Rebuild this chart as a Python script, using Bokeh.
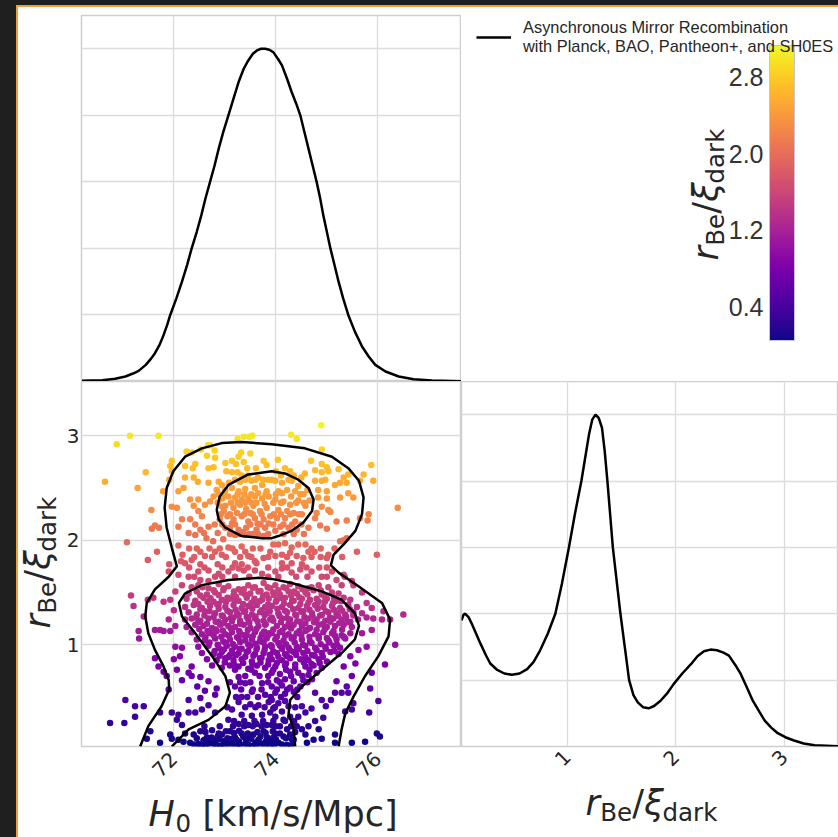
import math
import numpy as np
from bokeh.plotting import figure
from bokeh.layouts import row, column
from bokeh.models import (Div, FixedTicker, LinearColorMapper, ColumnDataSource, Label,
                          Legend, LegendItem, Range1d, ColorBar)
from bokeh.palettes import Plasma256
from bokeh.embed import file_html
from bokeh.resources import INLINE

# ---------------- data ----------------
H0_RANGE = (70.19, 77.64)
R_RANGE = (0.025, 3.52)
R_RANGE_1D = (0.025, 3.50)
CB_RANGE = (0.05, 3.13)

h0_ticks = [72, 74, 76]
r_ticks = [1, 2, 3]
cb_ticks = [0.4, 1.2, 2.0, 2.8]
cb_tick_labels = ["0.4", "1.2", "2.0", "2.8"]
density_grid = [0.2, 0.4, 0.6, 0.8, 1.0]

# 1D marginal of H0 (normalised to peak = 1)
h0_curve_x = [70.20, 70.60, 70.85, 71.05, 71.20, 71.31, 71.45, 71.55, 71.63, 71.72, 71.80, 71.87,
              71.93, 72.05, 72.16, 72.26, 72.35, 72.45, 72.54, 72.62, 72.71, 72.80, 72.88, 72.97,
              73.07, 73.17, 73.27, 73.37, 73.46, 73.55, 73.63, 73.71, 73.79, 73.87, 73.95, 74.04,
              74.12, 74.22, 74.31, 74.40, 74.48, 74.56, 74.64, 74.72, 74.80, 74.87, 74.93, 75.00,
              75.07, 75.15, 75.23, 75.32, 75.42, 75.55, 75.69, 75.82, 75.95, 76.15, 76.41, 76.70,
              77.06, 77.64]
h0_curve_y = [0.002, 0.004, 0.008, 0.015, 0.024, 0.032, 0.05, 0.068, 0.085, 0.11, 0.14, 0.17,
              0.20, 0.25, 0.30, 0.35, 0.40, 0.45, 0.50, 0.55, 0.60, 0.65, 0.70, 0.75,
              0.80, 0.85, 0.90, 0.94, 0.965, 0.985, 0.995, 1.00, 1.00, 0.997, 0.99, 0.97,
              0.95, 0.91, 0.87, 0.835, 0.80, 0.75, 0.70, 0.65, 0.60, 0.55, 0.50, 0.45,
              0.40, 0.35, 0.30, 0.25, 0.20, 0.15, 0.105, 0.075, 0.05, 0.03, 0.015, 0.007,
              0.003, 0.001]

# 1D marginal of r_Be/xi_dark
r_curve_x = [0.025, 0.045, 0.06, 0.09, 0.12, 0.16, 0.20, 0.25, 0.29, 0.35, 0.42, 0.49, 0.56, 0.63,
             0.69, 0.75, 0.82, 0.89, 0.95, 1.015, 1.07, 1.13, 1.17, 1.20, 1.23, 1.26, 1.29, 1.32,
             1.345, 1.37, 1.395, 1.42, 1.455, 1.49, 1.53, 1.57, 1.61, 1.65, 1.70, 1.75, 1.80, 1.86,
             1.92, 1.98, 2.06, 2.14, 2.20, 2.26, 2.32, 2.38, 2.44, 2.49, 2.55, 2.60, 2.66, 2.71,
             2.77, 2.82, 2.88, 2.94, 3.01, 3.09, 3.18, 3.28, 3.50]
r_curve_y = [0.38, 0.398, 0.40, 0.39, 0.37, 0.34, 0.31, 0.275, 0.25, 0.232, 0.22, 0.216, 0.22, 0.233,
             0.255, 0.29, 0.34, 0.40, 0.49, 0.60, 0.70, 0.80, 0.88, 0.94, 0.985, 1.00, 0.99, 0.96,
             0.89, 0.80, 0.70, 0.60, 0.50, 0.40, 0.30, 0.20, 0.155, 0.133, 0.118, 0.115, 0.122, 0.138,
             0.16, 0.188, 0.22, 0.248, 0.272, 0.287, 0.292, 0.29, 0.283, 0.274, 0.245, 0.218, 0.175, 0.138,
             0.105, 0.078, 0.057, 0.040, 0.028, 0.018, 0.009, 0.004, 0.001]

# contours (outer 95 %, lower 68 %, upper 68 %)
outer_h0 = [71.34, 71.50, 71.76, 71.91, 71.90, 71.80, 71.63, 71.50, 71.44, 71.47, 71.63, 71.90, 72.06,
            71.96, 71.86, 71.82, 71.86, 71.99, 72.22, 72.55, 72.94, 73.33, 73.92, 74.57, 75.10, 75.42,
            75.63, 75.72, 75.69, 75.56, 75.33, 75.13, 75.08, 75.23, 75.62, 76.08, 76.24, 76.21, 76.01,
            75.75, 75.52, 75.36, 75.29, 75.23]
outer_r = [0.025, 0.22, 0.41, 0.57, 0.66, 0.79, 0.95, 1.11, 1.27, 1.40, 1.53, 1.65, 1.75,
           1.93, 2.12, 2.31, 2.50, 2.66, 2.80, 2.88, 2.93, 2.94, 2.92, 2.88, 2.80, 2.69,
           2.57, 2.41, 2.25, 2.09, 1.96, 1.86, 1.76, 1.69, 1.56, 1.40, 1.24, 1.08, 0.89,
           0.70, 0.50, 0.34, 0.19, 0.025]

inner_low_h0 = [71.96, 72.29, 72.68, 73.01, 73.10, 73.01, 72.75, 72.42, 72.16, 72.10, 72.22, 72.55,
                73.07, 73.66, 73.92, 74.31, 74.90, 75.29, 75.55, 75.63, 75.55, 75.29, 74.90, 74.51,
                74.28, 74.25, 74.35, 74.38]
inner_low_r = [0.025, 0.19, 0.28, 0.41, 0.54, 0.70, 0.89, 1.11, 1.27, 1.40, 1.49, 1.57,
               1.62, 1.64, 1.63, 1.59, 1.51, 1.43, 1.30, 1.18, 1.05, 0.92, 0.76, 0.60,
               0.47, 0.34, 0.19, 0.025]

inner_up_h0 = [72.84, 72.90, 73.07, 73.46, 73.92, 74.18, 74.44, 74.64, 74.74, 74.71, 74.54, 74.31,
               74.05, 73.92, 73.73, 73.33, 73.01, 72.88, 72.84]
inner_up_r = [2.29, 2.42, 2.53, 2.63, 2.66, 2.64, 2.58, 2.50, 2.39, 2.28, 2.17, 2.09,
              2.04, 2.02, 2.02, 2.04, 2.12, 2.20, 2.29]

# scatter samples (H0, r_Be/xi_dark) read region by region
pts_upper_left = [
    (70.88, 2.92), (71.14, 3.00), (71.70, 3.00), (73.25, 2.97), (73.37, 2.99), (73.48, 2.99), (73.54, 3.00),
    (72.25, 2.85), (72.35, 2.84), (72.53, 2.87), (72.67, 2.91), (72.71, 2.91), (72.80, 2.86), (72.65, 2.81),
    (72.81, 2.79), (73.27, 2.80), (73.32, 2.84), (73.50, 2.83), (71.96, 2.76), (71.93, 2.71), (71.96, 2.66),
    (71.91, 2.58), (71.45, 2.65), (71.29, 2.50), (70.65, 2.56), (71.79, 2.47), (72.22, 2.71), (72.37, 2.69),
    (72.42, 2.73), (72.68, 2.69), (72.78, 2.70), (73.01, 2.74), (73.14, 2.76), (73.22, 2.73), (73.37, 2.75),
    (73.44, 2.69), (73.61, 2.69), (73.76, 2.76), (73.82, 2.72), (73.03, 2.66), (73.14, 2.65), (73.25, 2.65),
    (73.33, 2.62), (72.22, 2.60), (72.39, 2.60), (72.47, 2.56), (72.68, 2.55), (72.88, 2.56), (72.94, 2.53),
    (72.19, 2.50), (72.09, 2.47), (72.32, 2.39), (72.48, 2.39), (72.61, 2.34), (72.71, 2.37), (72.78, 2.42),
    (72.84, 2.48), (72.39, 2.33), (72.48, 2.28), (72.55, 2.23), (71.96, 2.32), (72.06, 2.31), (72.16, 2.20),
    (72.09, 2.13), (72.32, 2.20), (72.42, 2.15), (72.52, 2.10), (72.59, 2.07), (72.68, 2.13), (72.80, 2.15),
    (72.86, 2.07), (73.01, 2.12), (72.29, 2.07), (72.42, 2.05), (72.64, 2.02), (71.63, 2.14), (71.71, 2.12),
    (71.57, 2.11), (71.56, 2.29),
]
pts_upper_core = [
    (73.01, 2.48), (73.14, 2.50), (73.27, 2.47), (73.40, 2.49), (73.59, 2.50), (73.73, 2.53), (73.82, 2.47),
    (73.07, 2.42), (73.20, 2.41), (73.33, 2.39), (73.46, 2.40), (73.59, 2.42), (73.73, 2.40), (73.86, 2.42),
    (73.01, 2.33), (73.17, 2.31), (73.30, 2.34), (73.42, 2.30), (73.56, 2.33), (73.69, 2.28), (73.82, 2.31),
    (73.05, 2.23), (73.17, 2.20), (73.33, 2.23), (73.46, 2.18), (73.59, 2.21), (73.76, 2.20), (73.89, 2.23),
    (73.10, 2.12), (73.27, 2.10), (73.42, 2.12), (73.62, 2.10), (73.79, 2.12), (73.20, 2.05), (73.40, 2.05),
    (73.76, 2.04), (73.08, 2.55), (73.30, 2.56), (73.52, 2.57), (73.65, 2.60), (73.85, 2.58), (73.45, 2.62),
    (72.95, 2.40), (73.12, 2.36), (73.38, 2.44), (73.52, 2.36), (73.65, 2.45), (73.78, 2.35), (72.98, 2.28),
    (73.24, 2.26), (73.50, 2.26), (73.64, 2.16), (73.86, 2.16), (73.14, 2.16), (73.36, 2.08), (73.55, 2.06),
    (72.90, 2.20), (72.95, 2.32), (73.99, 2.57), (74.12, 2.55), (74.31, 2.57), (74.44, 2.52), (74.05, 2.47),
    (74.22, 2.48), (74.38, 2.47), (74.54, 2.44), (73.99, 2.39), (74.15, 2.37), (74.28, 2.34), (74.44, 2.38),
    (74.58, 2.33), (74.05, 2.29), (74.22, 2.28), (74.35, 2.26), (74.51, 2.25), (74.02, 2.21), (74.18, 2.21),
    (74.38, 2.18), (74.09, 2.13), (74.25, 2.12), (74.41, 2.10), (73.99, 2.09), (74.10, 2.62), (74.35, 2.62),
    (74.00, 2.66), (74.50, 2.60), (74.62, 2.48), (74.66, 2.38), (74.30, 2.42), (74.12, 2.45),
]
pts_upper_right = [
    (74.89, 3.10), (74.30, 3.01), (74.41, 2.97), (74.90, 2.87), (74.04, 2.77), (74.69, 2.76), (74.90, 2.73),
    (75.00, 2.70), (75.87, 2.72), (75.72, 2.63), (75.91, 2.57), (75.65, 2.57), (74.18, 2.69), (74.28, 2.66),
    (74.57, 2.64), (74.77, 2.67), (74.90, 2.65), (75.03, 2.66), (75.23, 2.68), (75.33, 2.60), (75.42, 2.63),
    (75.16, 2.53), (75.26, 2.55), (75.39, 2.55), (74.77, 2.57), (74.90, 2.57), (74.97, 2.58), (74.83, 2.48),
    (75.00, 2.47), (75.42, 2.45), (75.52, 2.41), (75.26, 2.41), (75.00, 2.40), (74.83, 2.41), (74.90, 2.32),
    (74.80, 2.26), (75.03, 2.29), (75.07, 2.27), (75.39, 2.19), (75.65, 2.21), (75.82, 2.25), (75.80, 2.19),
    (76.39, 2.31), (74.77, 2.21), (74.87, 2.14), (74.64, 2.12), (75.19, 2.18), (75.00, 2.11),
]
pts_saddle = [
    (72.09, 1.95), (72.17, 1.86), (72.14, 1.80), (72.22, 1.78), (71.91, 1.77), (71.67, 1.89), (71.49, 1.81),
    (71.08, 1.98), (72.52, 1.89), (72.61, 1.85), (72.81, 1.89), (72.94, 1.86), (73.07, 1.93), (73.20, 1.89),
    (73.33, 1.94), (73.40, 1.89), (73.46, 1.85), (73.59, 1.80), (73.76, 1.83), (73.89, 1.89), (72.35, 1.81),
    (72.52, 1.77), (72.86, 1.77), (73.20, 1.78), (73.33, 1.77), (73.62, 1.78), (72.97, 2.01), (72.77, 1.99),
    (73.95, 1.96), (74.05, 1.96), (74.18, 1.97), (74.31, 1.93), (74.44, 1.96), (74.58, 1.96), (74.64, 1.89),
    (74.28, 1.88), (74.12, 1.86), (73.99, 1.85), (74.41, 1.85), (74.76, 1.89), (75.33, 2.00), (75.26, 1.99),
    (75.39, 2.02), (75.59, 1.89), (75.98, 1.86), (75.03, 1.86), (75.00, 1.83), (74.12, 1.78), (74.31, 1.78),
    (74.54, 1.83), (74.51, 1.77), (72.48, 1.70), (72.68, 1.71), (72.88, 1.68), (73.07, 1.70), (73.27, 1.73),
    (73.37, 1.71), (73.59, 1.71), (73.73, 1.68), (72.68, 1.61), (72.52, 1.62), (72.81, 1.65), (71.90, 1.70),
    (72.09, 1.67), (72.29, 1.65), (74.31, 1.69), (74.48, 1.72), (74.70, 1.70), (74.90, 1.65), (75.10, 1.70),
    (74.12, 1.73), (73.99, 1.70), (75.29, 1.57), (75.49, 1.61), (75.19, 1.62),
]
pts_left = [
    (71.16, 1.47), (71.21, 1.37), (71.31, 1.13), (71.32, 1.06), (71.41, 1.27), (71.49, 1.43), (71.60, 1.45),
    (71.63, 1.14), (71.73, 1.14), (71.80, 1.13), (71.63, 0.87), (71.70, 0.79), (71.80, 0.74), (71.86, 0.70),
    (71.90, 0.57), (71.05, 0.47), (71.24, 0.41), (71.41, 0.41), (71.24, 0.31), (70.75, 0.25), (71.03, 0.25),
    (71.73, 0.35), (71.54, 0.17), (71.47, 0.10), (71.73, 0.06), (72.16, 1.57), (72.03, 1.51), (71.93, 1.43),
    (71.80, 1.41), (72.00, 1.33), (71.90, 1.24), (72.03, 1.18), (71.93, 1.13), (72.03, 0.98), (72.16, 0.97),
    (72.12, 0.89), (72.00, 0.86), (72.06, 0.76), (72.16, 0.66), (72.29, 0.73), (71.96, 0.35), (72.09, 0.33),
    (72.29, 0.35), (72.06, 0.28), (71.93, 0.14), (72.16, 0.23),
]
pts_core_left = [
    (72.35, 1.55), (72.48, 1.57), (72.68, 1.54), (72.88, 1.58), (73.07, 1.56), (73.27, 1.53), (73.46, 1.57),
    (73.59, 1.55), (73.76, 1.59), (73.89, 1.54), (72.29, 1.49), (72.45, 1.51), (72.65, 1.48), (72.81, 1.50),
    (72.97, 1.52), (73.17, 1.47), (73.33, 1.50), (73.50, 1.49), (73.66, 1.51), (73.82, 1.48), (72.25, 1.44),
    (72.42, 1.42), (72.58, 1.45), (72.78, 1.41), (72.94, 1.43), (73.10, 1.44), (73.27, 1.42), (73.43, 1.45),
    (73.56, 1.41), (73.73, 1.43), (73.86, 1.44), (72.22, 1.36), (72.39, 1.38), (72.55, 1.35), (72.71, 1.37),
    (72.88, 1.39), (73.01, 1.36), (73.17, 1.38), (73.33, 1.35), (73.46, 1.37), (73.63, 1.38), (73.79, 1.36),
    (73.91, 1.37), (72.29, 1.31), (72.45, 1.29), (72.61, 1.32), (72.81, 1.30), (72.94, 1.28), (73.10, 1.31),
    (73.24, 1.30), (73.40, 1.32), (73.53, 1.29), (73.69, 1.31), (73.82, 1.30), (72.22, 1.24), (72.35, 1.25),
    (72.52, 1.23), (72.68, 1.25), (72.88, 1.22), (73.01, 1.24), (73.17, 1.26), (73.30, 1.23), (73.46, 1.24),
    (73.59, 1.25), (73.76, 1.23), (73.89, 1.24), (72.25, 1.17), (72.42, 1.19), (72.58, 1.18), (72.75, 1.16),
    (72.91, 1.19), (73.07, 1.18), (73.20, 1.17), (73.37, 1.19), (73.50, 1.16), (73.66, 1.18), (73.79, 1.19),
    (72.35, 1.12), (72.55, 1.10), (72.71, 1.11), (72.84, 1.13), (73.01, 1.10), (73.14, 1.12), (73.30, 1.11),
    (73.43, 1.09), (73.59, 1.12), (73.73, 1.10), (73.86, 1.11), (72.45, 1.05), (72.61, 1.04), (72.81, 1.06),
    (72.97, 1.03), (73.10, 1.05), (73.27, 1.06), (73.40, 1.04), (73.53, 1.05), (73.69, 1.03), (73.82, 1.06),
    (72.48, 0.98), (72.68, 0.99), (72.88, 0.97), (73.04, 0.99), (73.20, 0.98), (73.33, 0.96), (73.50, 0.99),
    (73.63, 0.97), (73.79, 0.98), (73.91, 0.99), (72.55, 0.92), (72.78, 0.91), (72.94, 0.93), (73.10, 0.90),
    (73.27, 0.92), (73.43, 0.93), (73.59, 0.91), (73.76, 0.92), (73.89, 0.90), (72.65, 0.86), (72.84, 0.85),
    (73.01, 0.87), (73.17, 0.85), (73.33, 0.86), (73.53, 0.84), (73.69, 0.87), (73.86, 0.85), (72.35, 0.79),
    (72.75, 0.80), (72.94, 0.78), (73.10, 0.80), (73.27, 0.79), (73.46, 0.77), (73.63, 0.80), (73.79, 0.78),
]
pts_low_left = [
    (72.35, 0.70), (72.52, 0.69), (72.46, 0.60), (72.68, 0.65), (72.61, 0.56), (72.81, 0.52), (72.84, 0.58),
    (72.52, 0.49), (72.29, 0.47), (72.68, 0.42), (72.55, 0.38), (72.42, 0.35), (72.81, 0.35), (73.27, 0.69),
    (73.20, 0.60), (73.40, 0.63), (73.59, 0.73), (73.73, 0.63), (73.53, 0.55), (73.33, 0.50), (73.79, 0.52),
    (73.27, 0.45), (73.50, 0.43), (73.66, 0.42), (73.86, 0.45), (73.14, 0.38), (73.33, 0.33), (73.53, 0.32),
    (73.73, 0.33), (73.89, 0.35), (73.07, 0.28), (73.27, 0.24), (73.46, 0.23), (73.62, 0.24), (73.82, 0.23),
    (72.22, 0.15), (72.39, 0.14), (72.52, 0.17), (72.65, 0.11), (72.75, 0.18), (72.81, 0.09), (72.94, 0.14),
    (73.01, 0.08), (73.10, 0.17), (73.20, 0.11), (73.33, 0.15), (73.42, 0.09), (73.56, 0.14), (73.66, 0.08),
    (73.76, 0.17), (73.86, 0.09), (72.32, 0.06), (72.48, 0.05), (72.61, 0.03), (72.78, 0.05), (72.91, 0.03),
    (73.07, 0.05), (73.24, 0.03), (73.40, 0.05), (73.53, 0.03), (73.73, 0.05), (73.89, 0.03), (72.19, 0.07),
    (72.09, 0.09), (71.96, 0.10), (72.58, 0.08), (72.70, 0.06), (72.86, 0.12), (72.98, 0.06), (73.14, 0.10),
    (73.28, 0.07), (73.36, 0.12), (73.48, 0.11), (73.60, 0.06), (73.70, 0.12), (73.80, 0.07), (73.95, 0.11),
]
pts_core_right = [
    (73.99, 1.57), (74.15, 1.55), (74.28, 1.58), (74.44, 1.56), (74.64, 1.54), (74.84, 1.57), (75.03, 1.55),
    (73.95, 1.50), (74.08, 1.48), (74.25, 1.51), (74.41, 1.49), (74.58, 1.50), (74.74, 1.52), (74.90, 1.48),
    (75.10, 1.50), (75.23, 1.49), (74.02, 1.43), (74.18, 1.45), (74.35, 1.42), (74.51, 1.44), (74.67, 1.43),
    (74.84, 1.41), (75.00, 1.44), (75.19, 1.42), (75.33, 1.45), (75.46, 1.43), (73.92, 1.37), (74.12, 1.36),
    (74.28, 1.38), (74.44, 1.35), (74.61, 1.37), (74.77, 1.38), (74.93, 1.36), (75.10, 1.37), (75.26, 1.35),
    (75.42, 1.38), (75.59, 1.36), (74.05, 1.30), (74.22, 1.31), (74.38, 1.29), (74.54, 1.32), (74.71, 1.30),
    (74.87, 1.28), (75.03, 1.31), (75.19, 1.30), (75.36, 1.29), (75.52, 1.31), (73.95, 1.23), (74.12, 1.25),
    (74.28, 1.24), (74.48, 1.22), (74.64, 1.25), (74.80, 1.24), (74.97, 1.23), (75.13, 1.25), (75.29, 1.24),
    (75.46, 1.22), (75.61, 1.24), (74.02, 1.18), (74.18, 1.17), (74.35, 1.19), (74.51, 1.18), (74.67, 1.16),
    (74.84, 1.19), (75.00, 1.17), (75.16, 1.18), (75.33, 1.19), (75.49, 1.17), (73.92, 1.11), (74.08, 1.12),
    (74.25, 1.10), (74.41, 1.11), (74.58, 1.13), (74.77, 1.10), (74.93, 1.12), (75.10, 1.11), (75.29, 1.09),
    (75.46, 1.11), (73.99, 1.05), (74.15, 1.04), (74.31, 1.06), (74.51, 1.05), (74.67, 1.03), (74.84, 1.06),
    (75.03, 1.04), (75.19, 1.05), (75.36, 1.06), (73.92, 0.98), (74.08, 0.99), (74.25, 0.97), (74.41, 0.98),
    (74.58, 0.99), (74.77, 0.97), (74.97, 0.98), (75.13, 0.99), (75.26, 0.97), (74.02, 0.92), (74.18, 0.91),
    (74.35, 0.93), (74.54, 0.92), (74.71, 0.90), (74.90, 0.92), (75.07, 0.93), (75.23, 0.91), (73.92, 0.86),
    (74.12, 0.85), (74.28, 0.87), (74.48, 0.86), (74.64, 0.85), (74.84, 0.86), (75.00, 0.84), (73.99, 0.79),
    (74.18, 0.80), (74.38, 0.78), (74.58, 0.79), (74.74, 0.80), (74.90, 0.78), (73.92, 0.73), (74.08, 0.72),
    (74.28, 0.74), (74.44, 0.73), (74.64, 0.71), (74.80, 0.73), (74.02, 0.66), (74.18, 0.67), (74.35, 0.65),
    (74.54, 0.66), (74.71, 0.67), (73.92, 0.60), (74.12, 0.61), (74.28, 0.59), (74.48, 0.60), (73.99, 0.54),
    (74.18, 0.53), (74.35, 0.55), (73.92, 0.47), (74.05, 0.44), (74.18, 0.46), (73.95, 0.39), (74.12, 0.36),
    (74.25, 0.41), (73.99, 0.31), (74.15, 0.28), (74.28, 0.31), (73.92, 0.23), (74.08, 0.22), (74.22, 0.19),
    (73.99, 0.15), (74.15, 0.12), (74.28, 0.14), (73.92, 0.07), (74.05, 0.06), (74.22, 0.04), (74.35, 0.09),
    (74.44, 0.31), (74.51, 0.41), (74.58, 0.35), (74.41, 0.22),
]
pts_right = [
    (75.33, 1.67), (75.52, 1.57), (75.69, 1.50), (75.78, 1.40), (75.88, 1.35), (75.69, 1.30), (75.78, 1.26),
    (75.88, 1.14), (75.69, 1.11), (75.78, 0.98), (75.62, 0.95), (75.46, 0.89), (75.56, 0.82), (75.33, 0.79),
    (75.49, 0.70), (75.39, 0.60), (75.19, 0.65), (75.29, 0.54), (75.16, 0.54), (75.08, 0.47), (74.98, 0.41),
    (75.52, 0.44), (75.49, 0.38), (75.36, 0.36), (75.42, 0.54), (74.90, 0.47), (74.77, 0.54), (74.93, 0.30),
    (74.70, 0.39), (74.77, 0.27), (74.84, 0.19), (74.58, 0.14), (74.51, 0.19), (74.64, 0.22), (74.90, 0.10),
    (74.74, 0.09), (76.50, 1.29), (76.34, 1.00), (76.14, 0.81), (75.88, 0.73), (75.85, 0.58), (76.01, 0.46),
    (75.83, 0.35), (75.98, 0.15), (76.04, 0.12), (75.75, 0.07), (75.49, 0.06), (75.16, 0.14), (75.16, 0.06),
    (74.61, 0.06), (76.24, 1.24), (76.08, 1.24), (75.91, 1.25), (76.11, 1.32),
]
pts_dense_core = [
    (72.56, 1.55), (72.78, 1.52), (72.98, 1.54), (73.18, 1.51), (73.37, 1.53), (73.55, 1.545), (73.70, 1.515),
    (73.84, 1.55), (74.05, 1.52), (74.20, 1.54), (74.36, 1.51), (74.52, 1.53), (74.70, 1.55), (74.88, 1.52),
    (72.52, 1.47), (72.72, 1.445), (72.88, 1.475), (73.05, 1.45), (73.22, 1.46), (73.40, 1.48), (73.58, 1.44),
    (73.75, 1.465), (73.96, 1.475), (74.13, 1.445), (74.30, 1.47), (74.46, 1.455), (74.62, 1.48), (74.80, 1.44),
    (74.95, 1.465), (75.14, 1.45), (72.48, 1.39), (72.66, 1.41), (72.85, 1.385), (73.02, 1.405), (73.20, 1.42),
    (73.36, 1.39), (73.52, 1.40), (73.68, 1.415), (73.85, 1.385), (74.00, 1.41), (74.16, 1.395), (74.32, 1.42),
    (74.48, 1.39), (74.64, 1.405), (74.80, 1.385), (74.96, 1.41), (75.12, 1.40), (75.28, 1.415),
    (72.52, 1.34), (72.70, 1.32), (72.88, 1.345), (73.05, 1.325), (73.21, 1.335), (73.37, 1.315), (73.54, 1.345),
    (73.72, 1.33), (73.88, 1.32), (74.03, 1.345), (74.18, 1.325), (74.34, 1.34), (74.50, 1.315), (74.66, 1.335),
    (74.82, 1.345), (74.98, 1.32), (75.14, 1.335), (75.30, 1.325), (75.45, 1.34), (72.44, 1.26), (72.60, 1.28),
    (72.78, 1.265), (72.96, 1.275), (73.12, 1.255), (73.27, 1.28), (73.43, 1.265), (73.60, 1.27), (73.78, 1.285),
    (73.92, 1.26), (74.07, 1.275), (74.22, 1.255), (74.40, 1.28), (74.56, 1.265), (74.72, 1.27), (74.90, 1.285),
    (75.06, 1.26), (75.22, 1.275), (75.38, 1.265), (75.52, 1.28), (72.48, 1.215), (72.65, 1.20), (72.82, 1.22),
    (72.98, 1.205), (73.14, 1.225), (73.30, 1.20), (73.48, 1.21), (73.64, 1.225), (73.80, 1.195), (74.10, 1.215),
    (74.25, 1.20), (74.42, 1.225), (74.58, 1.205), (74.75, 1.215), (74.91, 1.195), (75.07, 1.22), (75.24, 1.205),
    (75.40, 1.215), (72.50, 1.15), (72.66, 1.13), (72.82, 1.145), (72.96, 1.135), (73.12, 1.155), (73.28, 1.13),
    (73.45, 1.14), (73.62, 1.15), (73.77, 1.125), (73.95, 1.145), (74.13, 1.135), (74.30, 1.155), (74.46, 1.13),
    (74.62, 1.145), (74.80, 1.14), (74.96, 1.15), (75.13, 1.13), (75.30, 1.145), (72.62, 1.07), (72.78, 1.09),
    (72.93, 1.075), (73.08, 1.085), (73.24, 1.07), (73.38, 1.09), (73.55, 1.08), (73.70, 1.065), (73.85, 1.09),
    (74.02, 1.075), (74.18, 1.085), (74.35, 1.07), (74.50, 1.09), (74.66, 1.075), (74.84, 1.08), (75.00, 1.065),
    (75.16, 1.085), (75.33, 1.075), (72.70, 1.02), (72.86, 1.00), (73.02, 1.015), (73.16, 1.005), (73.30, 1.025),
    (73.46, 1.00), (73.60, 1.01), (73.76, 1.02), (73.90, 0.995), (74.05, 1.015), (74.20, 1.005), (74.37, 1.02),
    (74.53, 1.00), (74.70, 1.015), (74.88, 1.005), (75.05, 1.02), (75.20, 1.00), (72.80, 0.94), (72.98, 0.955),
    (73.14, 0.945), (73.30, 0.96), (73.46, 0.94), (73.62, 0.955), (73.78, 0.95), (73.95, 0.935), (74.12, 0.96),
    (74.28, 0.945), (74.45, 0.955), (74.62, 0.94), (74.80, 0.95), (74.98, 0.96), (75.15, 0.94), (72.90, 0.895),
    (73.06, 0.88), (73.22, 0.90), (73.40, 0.885), (73.56, 0.895), (73.72, 0.875), (73.88, 0.90), (74.05, 0.885),
    (74.22, 0.89), (74.40, 0.90), (74.58, 0.88), (74.76, 0.895), (74.92, 0.885), (73.00, 0.83), (73.18, 0.81),
    (73.36, 0.825), (73.54, 0.815), (73.70, 0.83), (73.85, 0.81), (74.02, 0.825), (74.20, 0.82), (74.38, 0.81),
    (74.55, 0.83), (74.70, 0.815), (74.86, 0.825),
]
pts_dense_bottom = [
    (72.62, 0.165), (72.88, 0.15), (73.02, 0.17), (73.18, 0.155), (73.28, 0.175), (73.45, 0.15), (73.64, 0.165),
    (73.80, 0.155), (73.94, 0.17), (74.08, 0.15), (74.38, 0.165), (72.45, 0.105), (72.60, 0.09), (72.74, 0.11),
    (72.90, 0.095), (73.05, 0.105), (73.23, 0.09), (73.39, 0.11), (73.52, 0.10), (73.66, 0.09), (73.83, 0.11),
    (74.00, 0.095), (74.20, 0.105), (74.32, 0.09), (72.40, 0.045), (72.55, 0.035), (72.68, 0.05), (72.84, 0.04),
    (72.98, 0.035), (73.15, 0.05), (73.30, 0.04), (73.46, 0.045), (73.62, 0.035), (73.80, 0.05), (73.97, 0.04),
    (74.12, 0.045), (74.30, 0.035),
]
# further bands: (r_Be/xi_dark level, H0 positions of the dots along it)
dense_rows = [
    (2.58, [73.20, 73.40, 73.60, 73.75, 73.92, 74.25]),
    (2.44, [72.88, 73.00, 73.25, 73.52, 73.80, 74.00, 74.48]),
    (2.36, [72.86, 73.25, 73.40, 73.62, 73.95, 74.10, 74.40, 74.55]),
    (2.25, [72.92, 73.10, 73.38, 73.55, 73.72, 73.96, 74.10, 74.28, 74.45]),
    (2.15, [72.95, 73.20, 73.50, 73.70, 73.95, 74.15, 74.32, 74.50]),
    (2.06, [73.10, 73.28, 73.48, 73.65, 73.85, 74.15, 74.35, 74.55]),
    (1.92, [72.30, 72.45, 72.70, 72.90, 73.15, 73.55, 73.70, 74.70, 74.88, 75.15]),
    (1.84, [72.40, 72.75, 73.02, 73.30, 73.52, 73.85, 74.22, 74.70, 74.88, 75.30]),
    (1.74, [72.30, 72.60, 72.95, 73.15, 73.45, 73.85, 74.22, 74.60, 74.85, 75.00]),
    (1.65, [72.40, 72.95, 73.20, 73.48, 73.85, 74.05, 74.40, 74.62, 75.00, 75.35]),
    (0.76, [73.20, 73.52, 73.95, 74.20, 74.66]),
    (0.70, [73.40, 73.68, 73.85, 74.30, 74.52]),
    (0.64, [73.10, 73.30, 73.50, 73.85, 74.08, 74.62]),
    (0.57, [73.32, 73.55, 73.72, 74.02, 74.22, 74.42]),
    (0.50, [73.22, 73.44, 73.65, 73.90, 74.10, 74.42]),
    (0.40, [73.05, 73.40, 73.60, 73.78, 73.98, 74.38]),
    (0.27, [73.18, 73.38, 73.58, 73.75, 73.95, 74.18, 74.36]),
    (0.22, [72.60, 72.90, 73.16, 73.38, 73.55, 73.72, 74.00, 74.30]),
]

LEGEND_LABEL = "Asynchronous Mirror Recombination\nwith Planck, BAO, Pantheon+, and SH0ES"

# ---------------- styling ----------------
TEXT = "#262626"
GRID = "#dcdcdc"
FRAME = "#cfcfcf"
MATH_FONT = "DejaVu Sans"
MID = 0.36          # height of a text's middle line above its baseline, in em
COMMON = dict(output_backend="svg", toolbar_location=None, margin=0)


def style(p):
    p.background_fill_color = "white"
    p.border_fill_color = "white"
    p.outline_line_color = FRAME
    p.outline_line_width = 1.5
    for g in (p.xgrid, p.ygrid):
        g.grid_line_color = GRID
        g.grid_line_width = 1.3
    for ax in (p.xaxis, p.yaxis):
        ax.axis_line_color = None
        ax.major_tick_line_color = None
        ax.minor_tick_line_color = None
        ax.major_tick_in = 0
        ax.major_tick_out = 0
        ax.minor_tick_in = 0
        ax.minor_tick_out = 0
        ax.major_label_text_font = "DejaVu Sans"
        ax.major_label_text_font_size = "20px"
        ax.major_label_text_color = TEXT


def blank(width, height, left=0):
    """A plain canvas whose frame holds text only (used for the composed labels)."""
    f = figure(width=width, height=height, x_range=Range1d(0, 1), y_range=Range1d(0, 1),
               min_border_left=left, min_border_right=0, min_border_top=0, min_border_bottom=0,
               **COMMON)
    f.xaxis.visible = False
    f.yaxis.visible = False
    f.xgrid.visible = False
    f.ygrid.visible = False
    f.outline_line_color = None
    f.background_fill_color = "white"
    f.border_fill_color = "white"
    return f


def lab(p, text, x, y, size, italic=False, angle=0.0, font=MATH_FONT, color=TEXT, align="left"):
    p.add_layout(Label(x=x, y=y, x_units="screen", y_units="screen", text=text,
                       text_font=font, text_font_size=f"{size}px",
                       text_font_style="italic" if italic else "normal",
                       text_color=color, angle=angle, text_align=align,
                       text_baseline="middle"))


def math_label(p, pieces, x0, y0, vertical=False):
    # pieces: (text, size, italic, advance offset, drop below the main baseline)
    # (x0, y0): start of the main baseline, in screen px of the panel
    for text, size, it, off, drop in pieces:
        mid = MID * size - drop
        if vertical:
            lab(p, text, x0 - mid, y0 + off, size, it, angle=math.pi / 2)
        else:
            lab(p, text, x0 + off, y0 + mid, size, it)


RATIO_PIECES = [("r", 35, True, 0, 0), ("Be", 24.5, False, 14.8, 6), ("/", 35, False, 46.7, 0),
                ("\u03be", 35, True, 58.7, 0), ("dark", 24.5, False, 77.0, 6)]
H0_PIECES = [("H", 35, True, 0, 0), ("0", 24.5, False, 27, 5), ("[km/s/Mpc]", 35, False, 54, 0)]

mapper = LinearColorMapper(palette=Plasma256, low=CB_RANGE[0], high=CB_RANGE[1])

LEFT_B = 19   # border left of the left-hand panels (room for the tick labels 1, 2, 3)

# ---------------- top-left: H0 marginal ----------------
p_h0 = figure(width=380 + LEFT_B, height=374, x_range=Range1d(*H0_RANGE), y_range=Range1d(0, 1.1),
              min_border_left=LEFT_B, min_border_right=0, min_border_top=8, min_border_bottom=0,
              **COMMON)
style(p_h0)
p_h0.xaxis.visible = False
p_h0.yaxis.visible = False
p_h0.xgrid.ticker = FixedTicker(ticks=h0_ticks)
p_h0.ygrid.ticker = FixedTicker(ticks=density_grid)
p_h0.line(h0_curve_x, h0_curve_y, line_color="black", line_width=2.5)

# ---------------- bottom-left: 2D ----------------
p2 = figure(width=380 + LEFT_B, height=411, x_range=p_h0.x_range, y_range=Range1d(*R_RANGE),
            min_border_left=LEFT_B, min_border_right=0, min_border_top=0, min_border_bottom=46,
            **COMMON)
style(p2)
p2.xaxis.ticker = FixedTicker(ticks=h0_ticks)
p2.yaxis.ticker = FixedTicker(ticks=r_ticks)
p2.xgrid.ticker = FixedTicker(ticks=h0_ticks)
p2.ygrid.ticker = FixedTicker(ticks=r_ticks)
p2.xaxis.major_label_orientation = math.pi / 4
p2.xaxis.major_label_standoff = 9
p2.yaxis.major_label_standoff = 2

all_pts = (pts_upper_left + pts_upper_core + pts_upper_right + pts_saddle + pts_left +
           pts_core_left + pts_low_left + pts_core_right + pts_right + pts_dense_core + pts_dense_bottom)
for lvl, xs in dense_rows:
    all_pts += [(xv, lvl) for xv in xs]
src = ColumnDataSource(dict(h0=[q[0] for q in all_pts], r=[q[1] for q in all_pts]))
p2.scatter("h0", "r", source=src, size=6.5, line_color=None,
           fill_color={"field": "r", "transform": mapper})
p2.line(outer_h0, outer_r, line_color="black", line_width=2.5)
p2.line(inner_low_h0, inner_low_r, line_color="black", line_width=2.5)
p2.line(inner_up_h0, inner_up_r, line_color="black", line_width=2.5)

# ---------------- bottom-right: r marginal ----------------
pr = figure(width=377, height=401, x_range=Range1d(*R_RANGE_1D), y_range=Range1d(0, 1.1),
            min_border_left=0, min_border_right=0, min_border_top=0, min_border_bottom=36, **COMMON)
style(pr)
pr.yaxis.visible = False
pr.xaxis.ticker = FixedTicker(ticks=r_ticks)
pr.xgrid.ticker = FixedTicker(ticks=r_ticks)
pr.ygrid.ticker = FixedTicker(ticks=density_grid)
pr.xaxis.major_label_orientation = math.pi / 4
pr.xaxis.major_label_standoff = 7
pr.line(r_curve_x, r_curve_y, line_color="black", line_width=2.5)

# ---------------- top-right: legend + colour bar ----------------
pc = blank(377, 374)
BAR_X, BAR_Y, BAR_W, BAR_H = 308, 41, 25, 295
cbar = ColorBar(color_mapper=mapper, location=(BAR_X, BAR_Y), width=BAR_W, height=BAR_H,
                orientation="vertical", ticker=FixedTicker(ticks=[]),
                major_tick_line_color=None, minor_tick_line_color=None,
                bar_line_color="#c4c4d4", bar_line_width=1, border_line_color=None,
                background_fill_alpha=0, padding=0, margin=0)
pc.add_layout(cbar)
for v, t in zip(cb_ticks, cb_tick_labels):
    ypix = BAR_Y + (v - CB_RANGE[0]) / (CB_RANGE[1] - CB_RANGE[0]) * BAR_H
    lab(pc, t, BAR_X - 6, ypix, 25, font="Liberation Sans", color="#333333", align="right")
math_label(pc, RATIO_PIECES, 257, 121, vertical=True)

legend_line = pc.line(x=[float("nan")], y=[float("nan")], line_color="black", line_width=2.5)
legend = Legend(items=[LegendItem(label=LEGEND_LABEL, renderers=[legend_line])],
                location=(15, 325), padding=0, margin=0, spacing=0,
                glyph_width=35, glyph_height=20, label_standoff=12,
                label_text_font="Liberation Sans", label_text_font_size="16.4px",
                label_text_color=TEXT, label_text_line_height=1.1,
                border_line_color=None, background_fill_alpha=0)
pc.add_layout(legend)

# ---------------- composed axis labels ----------------
LAB_Y_W = 63 - LEFT_B
lab_y = blank(LAB_Y_W, 830)
math_label(lab_y, RATIO_PIECES, 32, 209, vertical=True)

lab_x = blank(380 + LEFT_B, 45, left=LEFT_B)
math_label(lab_x, H0_PIECES, 67, 11)

lab_r = blank(377, 55)
math_label(lab_r, RATIO_PIECES, 124, 22)

# ---------------- page layout with the dark frame ----------------
DARK = "#1f1f1f"
ORANGE = "#f2a036"
content = row(lab_y,
              column(p_h0, p2, lab_x, spacing=0),
              column(pc, pr, lab_r, spacing=0),
              spacing=0)
page = column(
    Div(text="", width=838, height=5, margin=0, styles={"background-color": DARK}),
    row(
        Div(text="", width=16, height=832, margin=0, styles={"background-color": DARK}),
        column(
            Div(text="", width=822, height=2, margin=0, styles={"background-color": ORANGE}),
            row(Div(text="", width=2, height=830, margin=0, styles={"background-color": ORANGE}),
                content, spacing=0),
            spacing=0),
        spacing=0),
    spacing=0)

open("out.html", "w").write(file_html(page, INLINE))
